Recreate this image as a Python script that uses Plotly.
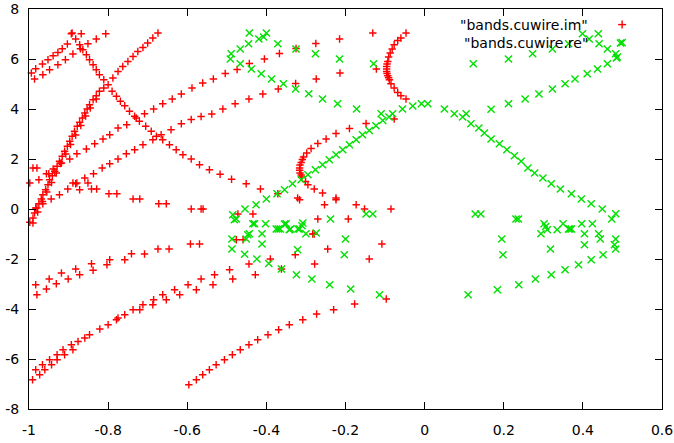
import plotly.graph_objects as go

# ---------------- tick labels ----------------
x_tick_vals = [-1, -0.8, -0.6, -0.4, -0.2, 0, 0.2, 0.4, 0.6]
x_tick_text = ["-1", "-0.8", "-0.6", "-0.4", "-0.2", "0", "0.2", "0.4", "0.6"]
y_tick_vals = [-8, -6, -4, -2, 0, 2, 4, 6, 8]
y_tick_text = ["-8", "-6", "-4", "-2", "0", "2", "4", "6", "8"]

# ---------------- "bands.cuwire.im" (red +) ----------------
im_r1_x = [-0.994, -0.983, -0.966, -0.952, -0.939, -0.927, -0.916, -0.903, -0.893, -0.868]
im_r1_y = [5.44, 5.61, 5.80, 5.97, 6.13, 6.26, 6.41, 6.60, 7.01, 7.01]
im_r2_x = [-0.986, -0.965, -0.948, -0.927, -0.908, -0.889, -0.870, -0.851, -0.830, -0.806]
im_r2_y = [5.20, 5.37, 5.57, 5.77, 5.97, 6.20, 6.41, 6.61, 6.80, 7.01]

im_steep_x = [-0.998, -0.990, -0.986, -0.980, -0.975, -0.969, -0.965, -0.958, -0.952, -0.948,
              -0.941, -0.935, -0.929, -0.923, -0.916, -0.910, -0.903, -0.897, -0.891, -0.885,
              -0.878, -0.872, -0.865, -0.859, -0.853, -0.847, -0.838, -0.830, -0.822, -0.811,
              -0.800, -0.788, -0.775, -0.763, -0.750, -0.737, -0.725, -0.712, -0.700, -0.687, -0.674]
im_steep_y = [-0.53, -0.36, -0.16, 0.04, 0.21, 0.40, 0.57, 0.77, 0.97, 1.17,
              1.33, 1.51, 1.71, 1.91, 2.11, 2.31, 2.51, 2.71, 2.91, 3.11,
              3.31, 3.47, 3.64, 3.84, 4.00, 4.17, 4.37, 4.53, 4.71, 4.84,
              4.97, 5.24, 5.50, 5.70, 5.90, 6.10, 6.30, 6.46, 6.64, 6.84, 7.04]
im_steep2_x = [-0.990, -0.978, -0.966, -0.955, -0.943, -0.931, -0.920, -0.907, -0.895, -0.882,
               -0.869, -0.857, -0.845, -0.830]
im_steep2_y = [-0.56, -0.12, 0.30, 0.68, 1.06, 1.44, 1.82, 2.20, 2.58, 2.96,
               3.34, 3.72, 4.04, 4.40]

im_down_x = [-0.891, -0.882, -0.872, -0.864, -0.855, -0.847, -0.838, -0.830, -0.822, -0.811,
             -0.790, -0.779, -0.769, -0.758, -0.746, -0.733, -0.721, -0.705, -0.691, -0.678,
             -0.662, -0.645, -0.628, -0.611, -0.590, -0.569, -0.544, -0.517, -0.488, -0.451,
             -0.415, -0.371, -0.321]
im_down_y = [7.04, 6.80, 6.57, 6.37, 6.17, 5.97, 5.77, 5.57, 5.37, 5.17,
             4.71, 4.51, 4.31, 4.13, 3.91, 3.71, 3.51, 3.31, 3.11, 2.91,
             2.77, 2.57, 2.37, 2.17, 2.00, 1.77, 1.57, 1.39, 1.19, 1.01,
             0.80, 0.61, 0.44]

im_c1_x = [-0.998, -0.990, -0.980, -0.975, -0.956, -0.950, -0.939, -0.918, -0.897, -0.879,
           -0.855, -0.834, -0.813, -0.796, -0.775, -0.753, -0.729, -0.708, -0.685, -0.662,
           -0.638, -0.615, -0.588, -0.561, -0.534, -0.504, -0.474, -0.443, -0.405, -0.367,
           -0.325, -0.275, -0.215, -0.131]
im_c1_y = [1.04, 1.64, 1.64, 1.17, 1.41, 1.41, 1.60, 1.84, 2.00, 2.21,
           2.40, 2.61, 2.80, 2.97, 3.24, 3.37, 3.64, 3.81, 4.00, 4.21,
           4.40, 4.60, 4.84, 5.04, 5.20, 5.42, 5.58, 5.82, 6.00, 6.22,
           6.42, 6.62, 6.80, 7.04]

im_c2_x = [-0.983, -0.965, -0.944, -0.923, -0.902, -0.882, -0.859, -0.837, -0.815, -0.796,
           -0.775, -0.754, -0.733, -0.712, -0.687, -0.666, -0.641, -0.615, -0.590, -0.565,
           -0.538, -0.510, -0.479, -0.444, -0.409, -0.370, -0.326, -0.274, -0.214]
im_c2_y = [0.04, 0.21, 0.40, 0.57, 0.80, 1.01, 1.24, 1.41, 1.64, 1.81,
           2.00, 2.21, 2.37, 2.57, 2.77, 2.97, 3.17, 3.41, 3.58, 3.70,
           3.80, 4.00, 4.21, 4.40, 4.60, 4.80, 5.02, 5.20, 5.44]

im_pairs_x = [-0.889, -0.879, -0.872, -0.851, -0.842, -0.829, -0.798, -0.778, -0.737, -0.720,
              -0.672, -0.653, -0.590, -0.565, -0.472, -0.434, -0.270, -0.193]
im_pairs_y = [1.04, 1.04, 0.77, 1.04, 0.80, 0.80, 0.61, 0.61, 0.40, 0.40,
              0.21, 0.21, 0.00, 0.00, -0.20, -0.20, -0.40, -0.40]

im_arc_low_x = [-0.077, -0.148, -0.190, -0.224, -0.249, -0.270, -0.287, -0.298, -0.306, -0.309,
                -0.312, -0.315, -0.316, -0.316, -0.315, -0.312, -0.310, -0.301, -0.295, -0.279,
                -0.258, -0.224]
im_arc_low_y = [3.60, 3.42, 3.22, 3.02, 2.80, 2.62, 2.42, 2.24, 2.08, 1.98,
                1.86, 1.76, 1.64, 1.55, 1.44, 1.36, 1.28, 1.10, 0.97, 0.80,
                0.64, 0.44]

im_arc_top_x = [-0.047, -0.060, -0.068, -0.077, -0.082, -0.087, -0.091, -0.093, -0.095, -0.096,
                -0.096, -0.096, -0.095, -0.093, -0.091, -0.089, -0.085, -0.077, -0.068, -0.060,
                -0.047]
im_arc_top_y = [7.04, 6.84, 6.74, 6.57, 6.40, 6.24, 6.08, 5.90, 5.80, 5.70,
                5.60, 5.50, 5.42, 5.33, 5.25, 5.17, 5.01, 4.84, 4.66, 4.53,
                4.40]

im_misc_x = [-0.122, -0.316, -0.224, -0.253, -0.173, -0.152, -0.085, -0.283, -0.279, -0.245,
             -0.108, -0.327, -0.390, -0.140, -0.444, -0.278, -0.362, -0.428, -0.485, -0.560,
             -0.476, -0.459]
im_misc_y = [5.60, 0.37, 0.37, 0.17, 0.17, 0.00, 0.00, -1.00, -1.00, -1.60,
             -1.40, -1.83, -2.00, -2.00, -2.20, -2.20, -2.40, -2.63, -2.80, 0.00,
             -1.23, -1.23]

im_band_up_x = [-0.983, -0.980, -0.956, -0.949, -0.931, -0.918, -0.901, -0.882, -0.872, -0.842,
                -0.838, -0.803, -0.796, -0.758, -0.741, -0.708, -0.674, -0.646, -0.592, -0.569]
im_band_up_y = [-3.03, -3.43, -3.20, -2.80, -2.99, -2.56, -2.80, -2.40, -2.63, -2.19,
                -2.45, -2.23, -2.03, -2.03, -1.79, -1.80, -1.60, -1.60, -1.40, -1.40]

im_band_lo_x = [-0.991, -0.983, -0.973, -0.966, -0.960, -0.948, -0.943, -0.929, -0.929, -0.914,
                -0.910, -0.893, -0.889, -0.876, -0.859, -0.847, -0.821, -0.800, -0.779, -0.775,
                -0.758, -0.737, -0.720, -0.712, -0.687, -0.685, -0.662, -0.653, -0.632, -0.619,
                -0.598, -0.577, -0.565, -0.535, -0.531, -0.493]
im_band_lo_y = [-6.83, -6.43, -6.63, -6.23, -6.43, -6.03, -6.23, -5.83, -6.03, -5.63,
                -5.83, -5.43, -5.63, -5.30, -5.16, -5.03, -4.80, -4.63, -4.43, -4.36,
                -4.23, -4.03, -4.03, -3.83, -3.83, -3.63, -3.43, -3.63, -3.23, -3.43,
                -3.03, -3.23, -2.80, -3.03, -2.63, -2.43]

im_bottom_x = [-0.596, -0.577, -0.561, -0.544, -0.527, -0.506, -0.486, -0.466, -0.444, -0.422,
               -0.396, -0.369, -0.342, -0.308, -0.273, -0.230, -0.177, -0.097]
im_bottom_y = [-7.03, -6.83, -6.63, -6.43, -6.23, -6.03, -5.83, -5.63, -5.43, -5.23,
               -5.03, -4.83, -4.63, -4.43, -4.20, -4.03, -3.80, -3.60]

# ---------------- "bands.cuwire.re" (green x) ----------------
re_g1_x = [-0.481, -0.476, -0.485, -0.454, -0.426, -0.400, -0.373, -0.354, -0.334, -0.312,
           -0.295, -0.276, -0.258, -0.241, -0.224, -0.207, -0.190, -0.173, -0.157, -0.140,
           -0.123, -0.106, -0.090, -0.110, -0.081, -0.056, -0.030, -0.008, 0.008]
re_g1_y = [-0.43, -0.40, -0.23, 0.00, 0.17, 0.40, 0.61, 0.77, 1.01, 1.17,
           1.37, 1.57, 1.77, 1.97, 2.17, 2.37, 2.57, 2.77, 2.97, 3.14,
           3.33, 3.54, 3.68, 3.81, 3.81, 4.00, 4.12, 4.21, 4.21]

re_g2_x = [-0.491, -0.466, -0.438, -0.413, -0.387, -0.357, -0.326, -0.293, -0.258, -0.220, -0.172]
re_g2_y = [6.00, 5.81, 5.60, 5.41, 5.20, 5.01, 4.80, 4.61, 4.40, 4.21, 4.00]

re_topleft_x = [-0.443, -0.419, -0.407, -0.400, -0.445, -0.466, -0.489]
re_topleft_y = [7.04, 6.80, 6.88, 7.04, 6.61, 6.40, 6.21]

re_toprow_x = [-0.371, -0.325, -0.276, -0.215, -0.129, 0.123, 0.212, 0.273, 0.323, 0.364]
re_toprow_y = [6.61, 6.40, 6.21, 6.00, 5.81, 5.81, 6.00, 6.21, 6.40, 6.61]

re_tips_x = [0.399, 0.416, 0.439, 0.441, 0.462, 0.483, 0.487, 0.495]
re_tips_y = [7.01, 6.80, 7.01, 6.61, 6.40, 6.21, 6.08, 6.64]

re_g4_x = [0.168, 0.212, 0.254, 0.289, 0.323, 0.355, 0.380, 0.411, 0.437, 0.462, 0.485]
re_g4_y = [3.99, 4.21, 4.40, 4.60, 4.80, 5.01, 5.20, 5.41, 5.60, 5.81, 6.04]

re_g3_x = [0.050, 0.075, 0.096, 0.105, 0.117, 0.137, 0.151, 0.168, 0.189, 0.208,
           0.227, 0.244, 0.261, 0.278, 0.299, 0.320, 0.343, 0.371, 0.396, 0.421,
           0.449, 0.483, 0.473]
re_g3_y = [4.00, 3.81, 3.68, 3.81, 3.41, 3.24, 3.04, 2.80, 2.61, 2.37,
           2.13, 1.91, 1.64, 1.44, 1.24, 1.01, 0.80, 0.61, 0.40, 0.21,
           0.00, -0.19, -0.40]

re_rcl_x = [0.128, 0.142, 0.231, 0.237, 0.302, 0.306, 0.294, 0.310, 0.335, 0.350,
            0.364, 0.367, 0.371, 0.397, 0.424, 0.404, 0.440, 0.444, 0.404, 0.483,
            0.480, 0.483, 0.195, 0.198, 0.318]
re_rcl_y = [-0.20, -0.20, -0.40, -0.40, -0.59, -0.70, -0.99, -0.83, -0.83, -0.59,
            -0.80, -0.80, -0.80, -0.59, -0.59, -0.99, -0.99, -1.20, -1.43, -1.20,
            -1.43, -1.60, -1.20, -1.83, -1.60]

re_rlow_x = [0.451, 0.421, 0.389, 0.355, 0.320, 0.280, 0.238, 0.184, 0.110]
re_rlow_y = [-1.83, -2.03, -2.23, -2.43, -2.63, -2.80, -3.03, -3.23, -3.43]

re_lcl_x = [-0.430, -0.402, -0.375, -0.370, -0.365, -0.354, -0.342, -0.339, -0.320, -0.316,
            -0.308, -0.310, -0.300, -0.274, -0.238, -0.200, -0.203, -0.411, -0.443, -0.447,
            -0.451, -0.487, -0.487, -0.411, -0.321, -0.148, -0.131, -0.434, -0.350]
re_lcl_y = [-0.59, -0.59, -0.80, -0.80, -0.80, -0.60, -0.83, -0.80, -0.80, -0.80,
            -0.56, -0.67, -0.99, -0.96, -0.40, -1.20, -1.83, -0.99, -0.99, -1.03,
            -1.20, -1.20, -1.60, -1.40, -1.63, -0.20, -0.20, -0.59, -0.59]

re_llow_x = [-0.455, -0.424, -0.394, -0.362, -0.324, -0.285, -0.240, -0.187, -0.114]
re_llow_y = [-1.81, -2.00, -2.18, -2.40, -2.63, -2.80, -3.03, -3.20, -3.43]

series_names = ['"bands.cuwire.im"', '"bands.cuwire.re"']

im_parts = [(im_r1_x, im_r1_y), (im_r2_x, im_r2_y), (im_steep_x, im_steep_y),
            (im_steep2_x, im_steep2_y), (im_down_x, im_down_y), (im_c1_x, im_c1_y),
            (im_c2_x, im_c2_y), (im_pairs_x, im_pairs_y), (im_arc_low_x, im_arc_low_y),
            (im_arc_top_x, im_arc_top_y), (im_misc_x, im_misc_y), (im_band_up_x, im_band_up_y),
            (im_band_lo_x, im_band_lo_y), (im_bottom_x, im_bottom_y)]
re_parts = [(re_g1_x, re_g1_y), (re_g2_x, re_g2_y), (re_topleft_x, re_topleft_y),
            (re_toprow_x, re_toprow_y), (re_tips_x, re_tips_y), (re_g4_x, re_g4_y),
            (re_g3_x, re_g3_y), (re_rcl_x, re_rcl_y), (re_rlow_x, re_rlow_y),
            (re_lcl_x, re_lcl_y), (re_llow_x, re_llow_y)]

for px_, py_ in im_parts + re_parts:
    assert len(px_) == len(py_)

im_x = [v for p in im_parts for v in p[0]]
im_y = [v for p in im_parts for v in p[1]]
re_x = [v for p in re_parts for v in p[0]]
re_y = [v for p in re_parts for v in p[1]]

RED = "#ff0000"
GREEN = "#00e000"
FONT = "DejaVu Sans"

fig = go.Figure()
fig.add_trace(go.Scatter(
    x=im_x, y=im_y, mode="markers", name=series_names[0], cliponaxis=False,
    marker=dict(symbol="cross-thin-open", size=5.3, color=RED,
                line=dict(color=RED, width=1.4)),
))
fig.add_trace(go.Scatter(
    x=re_x, y=re_y, mode="markers", name=series_names[1], cliponaxis=False,
    marker=dict(symbol="x-thin-open", size=7.2, color=GREEN,
                line=dict(color=GREEN, width=1.4)),
))

axis_common = dict(
    showgrid=False, zeroline=False, showline=True, linecolor="#000000", linewidth=1,
    mirror="ticks", ticks="inside", ticklen=7, tickcolor="#000000", tickwidth=1,
    automargin=False,
    tickfont=dict(family=FONT, size=14, color="#000000"),
)
fig.update_xaxes(range=[-1, 0.6], tickmode="array", tickvals=x_tick_vals,
                 ticktext=x_tick_text, ticklabelstandoff=8, **axis_common)
fig.update_yaxes(range=[-8, 8], tickmode="array", tickvals=y_tick_vals,
                 ticktext=y_tick_text, ticklabelstandoff=6, **axis_common)

# gnuplot-style key: text right-aligned, sample to its right
key_text_x = 0.887
key_rows_y = [0.961, 0.916]
for name, ky in zip(series_names, key_rows_y):
    fig.add_annotation(x=key_text_x, y=ky, xref="paper", yref="paper", text=name,
                       showarrow=False, xanchor="right", yanchor="middle",
                       font=dict(family=FONT, size=14, color="#000000"))
sx = 0.937
dx = 4.0 / 633
dy = 4.0 / 400
# red + sample
fig.add_shape(type="line", xref="paper", yref="paper", x0=sx - dx, x1=sx + dx,
              y0=key_rows_y[0], y1=key_rows_y[0], line=dict(color=RED, width=1.4))
fig.add_shape(type="line", xref="paper", yref="paper", x0=sx, x1=sx,
              y0=key_rows_y[0] - dy, y1=key_rows_y[0] + dy, line=dict(color=RED, width=1.4))
# green x sample
fig.add_shape(type="line", xref="paper", yref="paper", x0=sx - dx * 0.9, x1=sx + dx * 0.9,
              y0=key_rows_y[1] - dy * 0.9, y1=key_rows_y[1] + dy * 0.9, line=dict(color=GREEN, width=1.4))
fig.add_shape(type="line", xref="paper", yref="paper", x0=sx - dx * 0.9, x1=sx + dx * 0.9,
              y0=key_rows_y[1] + dy * 0.9, y1=key_rows_y[1] - dy * 0.9, line=dict(color=GREEN, width=1.4))

fig.update_layout(
    width=674, height=443,
    margin=dict(l=29, r=12, t=9, b=34),
    paper_bgcolor="white", plot_bgcolor="white",
    showlegend=False,
    font=dict(family=FONT, size=14, color="#000000"),
)

fig.write_html("out.html",
               config={"displayModeBar": False},
               post_script="document.body.style.margin='0';document.body.style.overflow='hidden';")
